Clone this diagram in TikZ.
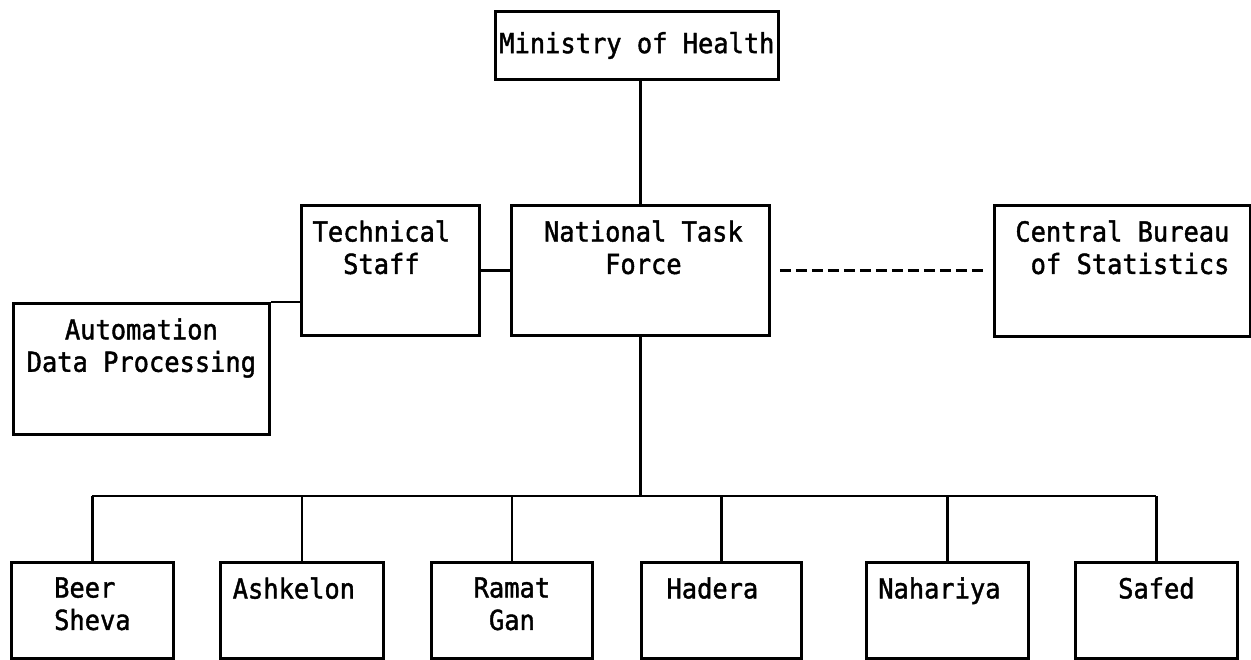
\documentclass[tikz,border=0pt]{standalone}
\usepackage{fontspec}
\newfontfamily\orgfont[FakeStretch=0.92,FakeBold=1.5]{DejaVu Sans Mono}
\usetikzlibrary{positioning}

\begin{document}
\begin{tikzpicture}[x=0.5pt,y=-0.5pt,
  box/.style={draw,line width=1.4pt,inner sep=0pt,anchor=north west},
  sz/.style 2 args={minimum width=#1*0.5pt,minimum height=#2*0.5pt},
  txt/.style={inner sep=0pt,font={\orgfont\fontsize{13.8}{16.2}\selectfont}},
  link/.style={line width=1.2pt}]
\useasboundingbox (0,0) rectangle (1251,659);
% 상자 위치는 원본 그림의 픽셀 좌표 (왼쪽 위 모서리, 폭, 높이)
\node[box,txt,sz={283}{68}] (moh) at (494,10) {Ministry of Health};
\node[box,sz={178}{130}] (ts) at (300,204) {};
\node[box,sz={258}{130}] (ntf) at (510,204) {};
\node[box,sz={256}{131}] (cbs) at (993,204) {};
\node[box,sz={256}{131}] (adp) at (12,302) {};
\node[box,sz={162}{96}] (bs) at (10,561) {};
\node[box,sz={163}{96}] (ash) at (219,561) {};
\node[box,sz={161}{96}] (rg) at (430,561) {};
\node[box,sz={160}{96}] (had) at (640,561) {};
\node[box,sz={162}{96}] (nah) at (865,561) {};
\node[box,sz={162}{96}] (saf) at (1074,561) {};
% 글자는 상자 위쪽에 붙여 둠
\node[txt,align=center,below=8pt of ts.north,xshift=-4.5pt] {Technical\\Staff};
\node[txt,align=center,below=8pt of ntf.north,xshift=1.5pt] {National Task\\Force};
\node[txt,align=right,below=8pt of cbs.north] {Central Bureau\\of Statistics};
\node[txt,align=center,below=8pt of adp.north] {Automation\\Data Processing};
\node[txt,align=left,below=8pt of bs.north] {Beer\\Sheva};
\node[txt,below=8pt of ash.north,xshift=-4pt] {Ashkelon};
\node[txt,align=center,below=8pt of rg.north] {Ramat\\Gan};
\node[txt,below=8pt of had.north,xshift=-4.5pt] {Hadera};
\node[txt,below=8pt of nah.north,xshift=-4pt] {Nahariya};
\node[txt,below=8pt of saf.north] {Safed};
\coordinate (bus) at (640,496);
\draw[link] (moh.south -| ntf.north) -- (ntf.north);
\draw[link] (ts.east) -- (ntf.west);
\draw[link] (adp.north east) -- (adp.north east -| ts.west);
\draw[line width=1.6pt,dash pattern=on 5.5pt off 2.5pt,shorten <=4.5pt,shorten >=5pt] (ntf.east) -- (ntf.east -| cbs.west);
\draw[link] (ntf.south) -- (ntf.south |- bus);
\draw[link] (bs.north |- bus) -- (saf.north |- bus);
\foreach \c in {bs,ash,rg,had,nah,saf} {\draw[link] (\c.north |- bus) -- (\c.north);}
\end{tikzpicture}
\end{document}
